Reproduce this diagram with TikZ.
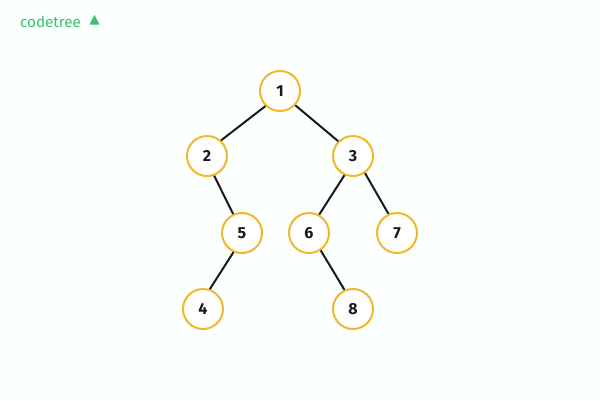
\documentclass[tikz,border=0pt]{standalone}
\usepackage{fontspec}
\setmainfont{Fira Sans}
\usetikzlibrary{positioning,calc}
\definecolor{ringcolor}{HTML}{F0B92B}
\definecolor{brandcolor}{HTML}{3CBF6E}
\definecolor{pagecolor}{HTML}{FBFFFE}
\definecolor{inkcolor}{HTML}{1A1A1A}
\tikzset{
	treenode/.style={circle,draw=ringcolor,line width=2pt,fill=white,minimum size=40pt,inner sep=0pt,text=inkcolor,font=\fontsize{16}{16}\selectfont\bfseries},
	treeedge/.style={draw=inkcolor,line width=2pt}
}
\begin{document}
\begin{tikzpicture}[x=1pt,y=-1pt]
		% page
		\path[fill=pagecolor] (0,0) rectangle (600,400);
		\useasboundingbox (0,0) rectangle (600,400);
		% logo
		\node[anchor=west,inner sep=0pt,text=brandcolor,font=\fontsize{15.2}{15}\selectfont] (brand) at (20,21.5) {codetree};
		\fill[brandcolor] (89.5,24.5) -- (94.5,15) -- (99.5,24.5) -- cycle;
		% draw nodes
		\node[treenode] (n1) at (280,91) {1};
		\node[treenode] (n2) at (207,156) {2};
		\node[treenode] (n3) at (353,156) {3};
		\node[treenode] (n5) at (242,233) {5};
		\node[treenode] (n6) at (309,233) {6};
		\node[treenode] (n7) at (397,233) {7};
		\node[treenode] (n4) at (203,309) {4};
		\node[treenode] (n8) at (353,309) {8};
		% draw edges
		\foreach \a/\b in {n1.226/n2.48,n1.-43/n3.135,n2.-70/n5.115,n3.246/n6.61,n3.-55/n7.114,n5.246/n4.71,n6.-56/n8.114}
		\draw[treeedge] (\a) -- (\b);
		\end{tikzpicture}
\end{document}
